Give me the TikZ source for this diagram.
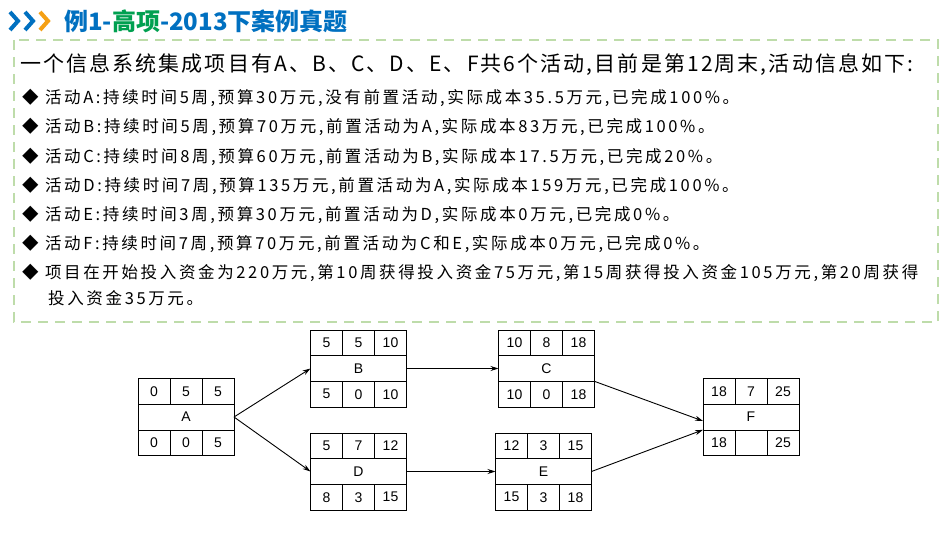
\documentclass[tikz,border=0pt]{standalone}
\usepackage{fontspec}
\setmainfont{Liberation Sans}
\newfontfamily\cjk{Noto Sans CJK SC}
\newfontfamily\cjkw[LetterSpace=16]{Noto Sans CJK SC}
\newfontfamily\cjkh[LetterSpace=10]{Noto Sans CJK SC}
\usetikzlibrary{arrows.meta}
\definecolor{tblue}{RGB}{0,112,192}
\definecolor{tgreen}{RGB}{0,160,80}
\definecolor{torange}{RGB}{245,160,20}
\definecolor{dgreen}{RGB}{190,220,170}
\tikzset{
 cell/.style={draw,outer sep=0pt,minimum width=32pt,minimum height=25.7pt,inner sep=0pt,font=\fontsize{14}{14}\selectfont,line width=0.6pt},
 mid/.style={draw,outer sep=0pt,minimum width=96pt,minimum height=25.7pt,inner sep=0pt,font=\fontsize{14}{14}\selectfont,line width=0.6pt},
 conn/.style={line width=0.9pt,-{Stealth[length=8pt,width=5pt]}},
 txt/.style={anchor=west,inner sep=0pt,font=\cjkw\fontsize{16.5}{16.5}\selectfont},
}
\newcommand\actbox[9]{%
 \node[mid] (#1) at (#2,#3) {#7};
 \node[cell,anchor=south west] (#1t1) at (#1.north west) {#4};
 \node[cell,anchor=west] (#1t2) at (#1t1.east) {#5};
 \node[cell,anchor=west] (#1t3) at (#1t2.east) {#6};
 \node[cell,anchor=north west] (#1b1) at (#1.south west) {#8};
 \node[cell,anchor=west] (#1b2) at (#1b1.east) {\csname bm#1\endcsname};
 \node[cell,anchor=west] (#1b3) at (#1b2.east) {#9};
}
\begin{document}
\begin{tikzpicture}[x=1pt,y=-1pt]
\useasboundingbox (0,0) rectangle (950,535);
% title
\foreach \xx/\cc in {10/tblue,25/tblue,40/torange}
 \draw[\cc,line width=4pt] (\xx,12)--(\xx+8,21)--(\xx,30);
\node[anchor=west,inner sep=0pt,font=\cjk\bfseries\fontsize{24}{24}\selectfont] (title) at (64,21)
 {\textcolor{tblue}{例1-}\textcolor{tgreen}{高项}\textcolor{tblue}{-2013下案例真题}};
\draw[dgreen,dashed,dash pattern=on 10pt off 7pt,line width=1.5pt] (14,40) rectangle (938,322);
\node[txt,font=\cjkh\fontsize{21}{21}\selectfont] (l0) at (20,65) {一个信息系统集成项目有A、B、C、D、E、F共6个活动,目前是第12周末,活动信息如下:};
\node[txt] (l1) at (22,98) {◆\ 活动A:持续时间5周,预算30万元,没有前置活动,实际成本35.5万元,已完成100\%。};
\node[txt] (l2) at (22,127) {◆\ 活动B:持续时间5周,预算70万元,前置活动为A,实际成本83万元,已完成100\%。};
\node[txt] (l3) at (22,157) {◆\ 活动C:持续时间8周,预算60万元,前置活动为B,实际成本17.5万元,已完成20\%。};
\node[txt] (l4) at (22,186) {◆\ 活动D:持续时间7周,预算135万元,前置活动为A,实际成本159万元,已完成100\%。};
\node[txt] (l5) at (22,215) {◆\ 活动E:持续时间3周,预算30万元,前置活动为D,实际成本0万元,已完成0\%。};
\node[txt] (l6) at (22,244) {◆\ 活动F:持续时间7周,预算70万元,前置活动为C和E,实际成本0万元,已完成0\%。};
\node[txt] (l7) at (22,273) {◆\ 项目在开始投入资金为220万元,第10周获得投入资金75万元,第15周获得投入资金105万元,第20周获得};
\node[txt] (l8) at (48,298) {投入资金35万元。};
% boxes
\def\bmA{0}\def\bmB{0}\def\bmC{0}\def\bmD{3}\def\bmE{3}\def\bmF{}
\actbox{A}{186}{417}{0}{5}{5}{A}{0}{5}
\actbox{B}{358.5}{368.5}{5}{5}{10}{B}{5}{10}
\actbox{D}{358.5}{471.5}{5}{7}{12}{D}{8}{15}
\actbox{C}{546.5}{368.5}{10}{8}{18}{C}{10}{18}
\actbox{E}{543.5}{471.5}{12}{3}{15}{E}{15}{18}
\actbox{F}{751}{417}{18}{7}{25}{F}{18}{25}
\draw[conn] (A.east) -- (B.west);
\draw[conn] (A.east) -- (D.west);
\draw[conn] (B.east) -- (C.west);
\draw[conn] (D.east) -- (E.west);
\draw[conn] (C.south east) -- ([yshift=-4pt]F.west);
\draw[conn] (E.east) -- (F.south west);
\end{tikzpicture}
\end{document}
